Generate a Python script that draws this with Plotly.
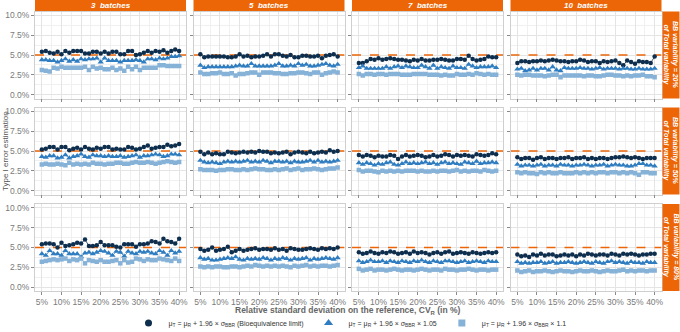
import plotly.graph_objects as go

W, H = 680, 332

cv = list(range(5, 41))
batches = ["3  batches", "5  batches", "7  batches", "10  batches"]
bb_labels = ["BB variability = 20%", "BB variability = 50%", "BB variability = 80%"]
limit = 5.0
x_range = [3.25, 41.75]
y_range = [-0.5, 10.5]
y_ticks = [0, 2.5, 5, 7.5, 10]
x_ticks = [5, 10, 15, 20, 25, 30, 35, 40]

legend_names = [
    "μ<sub>T</sub> = μ<sub>R</sub> + 1.96 × σ<sub>BBR</sub> (Bioequivalence limit)",
    "μ<sub>T</sub> = μ<sub>R</sub> + 1.96 × σ<sub>BBR</sub> × 1.05",
    "μ<sub>T</sub> = μ<sub>R</sub> + 1.96 × σ<sub>BBR</sub> × 1.1",
]

# ---- BB = 20% ----
bb20_b3_c = [5.4, 5.5, 5.3, 5.2, 5.4, 5.1, 5.5, 5.3, 5.5, 5.5, 5.5, 5.2, 5.2, 5.4, 5.4, 5.2, 5.4, 5.2, 5.4, 5.4, 5.1, 5.1, 5.5, 5.5, 5.0, 5.1, 5.3, 5.5, 5.3, 5.5, 5.4, 5.6, 5.3, 5.5, 5.7, 5.5]
bb20_b3_t = [4.4, 4.4, 4.3, 4.3, 4.1, 4.3, 4.5, 4.2, 4.4, 4.2, 4.5, 4.4, 4.5, 4.5, 4.6, 4.1, 4.6, 4.3, 4.3, 4.3, 4.1, 4.3, 4.3, 4.3, 4.4, 4.3, 4.1, 4.5, 4.5, 4.4, 4.6, 4.5, 4.6, 4.8, 4.8, 4.9]
bb20_b3_s = [3.1, 3.0, 2.9, 3.4, 3.3, 3.5, 3.4, 3.4, 3.4, 3.4, 3.4, 3.5, 3.1, 3.5, 3.3, 3.4, 3.2, 3.2, 3.4, 3.1, 3.3, 3.0, 3.5, 3.2, 3.5, 3.1, 3.4, 3.4, 3.4, 3.4, 3.7, 3.7, 3.6, 3.6, 3.6, 3.6]

bb20_b5_c = [5.1, 4.7, 4.8, 4.8, 4.8, 4.8, 4.8, 4.7, 4.7, 4.8, 5.1, 4.8, 4.9, 4.7, 4.8, 4.8, 4.9, 5.1, 4.8, 5.1, 5.1, 4.9, 4.8, 5.0, 4.7, 4.7, 4.9, 4.9, 4.8, 4.8, 4.9, 4.6, 4.9, 5.0, 5.1, 4.8]
bb20_b5_t = [3.7, 3.4, 3.5, 3.5, 3.5, 3.5, 3.5, 3.5, 3.5, 3.6, 3.7, 3.6, 3.6, 3.9, 3.6, 3.6, 3.6, 3.6, 3.6, 3.7, 3.9, 3.6, 3.6, 3.7, 3.6, 3.9, 3.7, 3.8, 3.6, 3.6, 3.7, 3.8, 3.9, 3.7, 3.6, 3.8]
bb20_b5_s = [2.8, 2.6, 2.6, 2.7, 2.7, 2.8, 2.6, 2.6, 2.7, 2.4, 2.6, 2.6, 2.7, 2.8, 2.8, 2.5, 2.8, 2.8, 2.8, 2.7, 2.7, 2.6, 2.6, 2.7, 2.7, 2.8, 2.8, 2.7, 2.6, 2.8, 2.8, 2.5, 2.7, 2.8, 2.9, 2.8]

bb20_b7_c = [4.0, 4.0, 4.2, 4.5, 4.4, 4.6, 4.4, 4.5, 4.6, 4.5, 4.4, 4.4, 4.3, 4.2, 4.4, 4.3, 4.5, 4.3, 4.3, 4.4, 4.4, 4.5, 4.4, 4.3, 4.3, 4.5, 4.5, 4.4, 4.9, 4.5, 4.3, 4.4, 4.5, 4.8, 4.7, 4.7]
bb20_b7_t = [3.4, 3.6, 3.3, 3.3, 3.3, 3.3, 3.3, 3.5, 3.3, 3.5, 3.6, 3.4, 3.6, 3.5, 3.4, 3.4, 3.7, 3.5, 3.3, 3.7, 3.3, 3.5, 3.4, 3.3, 3.6, 3.4, 3.4, 3.3, 3.8, 3.6, 3.4, 3.5, 3.5, 3.5, 3.6, 3.4]
bb20_b7_s = [2.6, 2.4, 2.6, 2.6, 2.5, 2.6, 2.6, 2.5, 2.6, 2.6, 2.6, 2.5, 2.5, 2.5, 2.6, 2.6, 2.6, 2.6, 2.5, 2.5, 2.5, 2.4, 2.5, 2.4, 2.4, 2.6, 2.5, 2.5, 2.6, 2.5, 2.7, 2.6, 2.5, 2.6, 2.5, 2.5]

bb20_b10_c = [4.0, 4.2, 4.2, 4.1, 4.2, 4.2, 4.3, 4.2, 4.3, 4.4, 4.3, 4.2, 4.2, 4.1, 4.2, 4.2, 4.4, 4.3, 4.1, 4.2, 4.2, 4.0, 4.2, 4.1, 4.2, 4.3, 4.0, 3.7, 4.3, 4.1, 3.9, 4.2, 4.1, 4.1, 4.0, 4.8]
bb20_b10_t = [3.2, 3.3, 3.0, 3.1, 3.3, 3.1, 3.3, 3.3, 3.1, 3.5, 3.1, 3.0, 3.4, 3.3, 3.3, 3.3, 3.4, 3.3, 3.3, 3.2, 3.3, 3.4, 3.2, 3.3, 3.3, 3.3, 3.2, 3.3, 3.3, 3.2, 3.2, 3.3, 3.2, 3.2, 3.2, 3.3]
bb20_b10_s = [2.5, 2.4, 2.5, 2.5, 2.4, 2.4, 2.4, 2.3, 2.4, 2.5, 2.5, 2.2, 2.4, 2.4, 2.4, 2.4, 2.4, 2.3, 2.4, 2.4, 2.3, 2.3, 2.4, 2.5, 2.5, 2.4, 2.4, 2.3, 2.4, 2.3, 2.4, 2.4, 2.5, 2.3, 2.3, 2.2]

# ---- BB = 50% ----
bb50_b3_c = [5.2, 5.3, 5.5, 5.5, 5.2, 5.5, 5.5, 5.1, 5.3, 5.4, 5.2, 5.5, 5.3, 5.2, 5.4, 5.3, 5.5, 5.5, 5.2, 5.3, 5.2, 5.2, 5.5, 5.4, 5.2, 5.3, 5.5, 5.7, 5.3, 5.4, 5.5, 5.5, 5.8, 5.6, 5.7, 5.9]
bb50_b3_t = [4.3, 4.2, 4.4, 4.4, 4.1, 4.2, 4.5, 4.1, 4.3, 4.4, 4.6, 4.3, 4.2, 4.5, 4.4, 4.4, 4.3, 4.4, 4.3, 4.3, 4.4, 4.2, 4.3, 4.4, 4.5, 4.2, 4.4, 4.4, 4.5, 4.6, 4.5, 4.3, 4.4, 4.6, 4.6, 4.5]
bb50_b3_s = [3.3, 3.4, 3.3, 3.3, 3.4, 3.3, 3.2, 3.5, 3.3, 3.4, 3.3, 3.4, 3.3, 3.5, 3.4, 3.4, 3.3, 3.4, 3.4, 3.5, 3.5, 3.4, 3.4, 3.5, 3.6, 3.5, 3.5, 3.6, 3.5, 3.4, 3.5, 3.6, 3.7, 3.6, 3.5, 3.6]

bb50_b5_c = [4.9, 4.6, 4.8, 4.6, 4.7, 4.6, 4.6, 4.9, 4.8, 4.7, 4.8, 4.9, 4.8, 4.9, 4.8, 5.0, 4.9, 4.9, 4.7, 4.8, 4.7, 4.8, 4.9, 4.6, 4.8, 4.9, 4.8, 4.7, 4.9, 4.7, 4.8, 4.9, 4.8, 5.1, 4.9, 5.0]
bb50_b5_t = [3.8, 3.6, 3.5, 3.6, 3.5, 3.4, 3.6, 3.7, 3.6, 3.7, 3.6, 3.7, 3.8, 3.6, 3.7, 3.6, 3.8, 3.7, 3.5, 3.7, 3.7, 3.6, 3.7, 3.5, 3.7, 3.6, 3.6, 3.7, 3.8, 3.6, 3.8, 3.6, 3.7, 3.6, 3.7, 3.8]
bb50_b5_s = [2.7, 2.6, 2.6, 2.6, 2.5, 2.6, 2.6, 2.7, 2.7, 2.6, 2.6, 2.7, 2.6, 2.7, 2.8, 2.7, 2.7, 2.6, 2.6, 2.7, 2.6, 2.7, 2.8, 2.6, 2.7, 2.8, 2.6, 2.7, 2.7, 2.8, 2.7, 2.6, 2.7, 2.8, 2.8, 2.9]

bb50_b7_c = [4.5, 4.3, 4.5, 4.4, 4.2, 4.4, 4.3, 4.3, 4.5, 4.4, 4.0, 4.3, 4.5, 4.3, 4.4, 4.5, 4.4, 4.2, 4.3, 4.5, 4.3, 4.4, 4.6, 4.5, 4.3, 4.5, 4.4, 4.5, 4.4, 4.3, 4.6, 4.5, 4.4, 4.5, 4.7, 4.6]
bb50_b7_t = [3.5, 3.3, 3.5, 3.4, 3.2, 3.4, 3.3, 3.5, 3.6, 3.3, 3.2, 3.4, 3.6, 3.4, 3.5, 3.4, 3.5, 3.6, 3.4, 3.5, 3.3, 3.5, 3.6, 3.4, 3.5, 3.4, 3.3, 3.6, 3.5, 3.4, 3.7, 3.4, 3.5, 3.5, 3.6, 3.5]
bb50_b7_s = [2.6, 2.4, 2.5, 2.5, 2.4, 2.3, 2.5, 2.4, 2.5, 2.4, 2.5, 2.4, 2.5, 2.5, 2.5, 2.4, 2.5, 2.4, 2.4, 2.5, 2.4, 2.5, 2.5, 2.4, 2.5, 2.6, 2.4, 2.5, 2.4, 2.5, 2.5, 2.4, 2.6, 2.5, 2.4, 2.5]

bb50_b10_c = [4.2, 4.0, 4.1, 4.1, 3.9, 4.1, 4.2, 4.0, 4.1, 4.1, 4.0, 4.1, 4.1, 4.2, 4.0, 4.1, 4.1, 4.2, 4.0, 4.1, 4.0, 4.1, 4.1, 4.0, 4.1, 4.2, 4.2, 4.3, 4.2, 4.1, 4.2, 4.1, 4.0, 4.1, 4.1, 4.1]
bb50_b10_t = [3.3, 3.1, 3.2, 3.2, 3.1, 3.2, 3.3, 3.1, 3.2, 3.2, 3.1, 3.3, 3.2, 3.2, 3.1, 3.2, 3.2, 3.3, 3.2, 3.1, 3.2, 3.2, 3.3, 3.1, 3.2, 3.3, 3.2, 3.2, 3.1, 3.1, 3.2, 3.4, 3.4, 3.2, 3.2, 3.1]
bb50_b10_s = [2.3, 2.2, 2.3, 2.2, 2.2, 2.1, 2.3, 2.2, 2.3, 2.2, 2.2, 2.3, 2.2, 2.2, 2.2, 2.3, 2.2, 2.3, 2.2, 2.3, 2.2, 2.3, 2.3, 2.2, 2.3, 2.3, 2.2, 2.3, 2.2, 2.3, 2.2, 2.0, 2.3, 2.3, 2.2, 2.2]

# ---- BB = 80% ----
bb80_b3_c = [5.4, 5.5, 5.5, 5.4, 5.0, 5.6, 5.2, 5.3, 5.4, 5.6, 5.5, 6.0, 5.2, 5.2, 5.3, 5.7, 5.3, 5.3, 5.3, 5.1, 5.0, 5.4, 5.4, 5.4, 5.1, 5.4, 5.4, 5.5, 5.8, 5.7, 5.5, 6.1, 5.8, 5.7, 5.5, 6.1]
bb80_b3_t = [4.2, 4.0, 4.6, 4.2, 4.2, 4.0, 4.6, 4.2, 4.2, 4.2, 3.8, 4.3, 4.4, 4.2, 4.4, 4.6, 4.5, 4.3, 4.0, 4.5, 4.4, 3.9, 4.5, 4.3, 4.2, 4.5, 4.4, 4.5, 4.3, 4.2, 4.6, 4.4, 4.0, 4.6, 4.3, 4.5]
bb80_b3_s = [3.2, 3.3, 3.4, 3.5, 3.4, 3.5, 3.6, 3.3, 3.5, 3.4, 3.6, 3.0, 3.4, 3.3, 3.2, 3.4, 3.2, 3.2, 3.3, 3.4, 3.0, 3.4, 3.1, 3.2, 3.6, 3.5, 3.3, 3.5, 3.4, 3.4, 3.6, 3.5, 3.4, 3.3, 3.6, 3.3]

bb80_b5_c = [4.8, 4.6, 4.7, 5.0, 4.6, 4.7, 4.8, 5.1, 4.4, 4.6, 4.8, 4.6, 4.7, 4.8, 4.9, 4.7, 4.8, 4.8, 4.7, 4.9, 4.7, 4.8, 4.6, 4.9, 4.8, 4.7, 4.7, 4.8, 4.9, 4.8, 4.7, 4.9, 4.8, 4.9, 4.8, 5.0]
bb80_b5_t = [3.7, 3.5, 3.6, 3.4, 3.4, 3.5, 3.6, 3.7, 3.6, 3.8, 3.5, 3.4, 3.6, 3.5, 3.6, 3.5, 3.7, 3.6, 3.4, 3.6, 3.5, 3.7, 3.6, 3.4, 3.6, 3.5, 3.6, 3.7, 3.4, 3.6, 3.5, 3.6, 3.7, 3.6, 3.5, 3.7]
bb80_b5_s = [2.6, 2.5, 2.6, 2.5, 2.6, 2.6, 2.5, 2.5, 2.6, 2.6, 2.5, 2.6, 2.7, 2.6, 2.8, 2.7, 2.6, 2.7, 2.6, 2.7, 2.6, 2.7, 2.6, 2.5, 2.7, 2.6, 2.7, 2.8, 2.6, 2.7, 2.6, 2.7, 2.7, 2.6, 2.7, 2.8]

bb80_b7_c = [4.4, 4.2, 4.3, 4.5, 4.3, 4.2, 4.4, 4.3, 4.5, 4.4, 4.2, 4.3, 4.4, 4.2, 4.5, 4.3, 4.4, 4.3, 4.1, 4.3, 4.4, 4.2, 4.4, 4.5, 4.2, 4.3, 4.4, 4.3, 4.2, 4.4, 4.3, 4.2, 4.3, 4.4, 4.3, 4.4]
bb80_b7_t = [3.3, 3.1, 3.2, 3.4, 3.2, 3.2, 3.3, 3.1, 3.3, 3.2, 3.1, 3.3, 3.2, 3.1, 3.3, 3.2, 3.4, 3.2, 3.1, 3.3, 3.2, 3.1, 3.3, 3.3, 3.2, 3.1, 3.2, 3.3, 3.1, 3.2, 3.3, 3.2, 3.1, 3.3, 3.2, 3.2]
bb80_b7_s = [2.3, 2.1, 2.2, 2.3, 2.1, 2.2, 2.2, 2.1, 2.2, 2.3, 2.2, 2.1, 2.2, 2.2, 2.1, 2.2, 2.3, 2.2, 2.1, 2.2, 2.2, 2.1, 2.3, 2.2, 2.2, 2.1, 2.2, 2.2, 2.3, 2.2, 2.1, 2.2, 2.2, 2.1, 2.2, 2.2]

bb80_b10_c = [4.1, 3.9, 4.0, 3.8, 4.1, 4.0, 4.2, 4.0, 4.1, 4.1, 3.9, 4.0, 4.1, 4.0, 4.1, 3.9, 4.1, 4.0, 4.2, 4.1, 4.0, 4.1, 4.1, 4.0, 4.2, 4.1, 4.0, 4.2, 4.1, 4.2, 4.1, 4.0, 4.1, 4.1, 4.2, 4.2]
bb80_b10_t = [3.2, 3.0, 3.1, 3.0, 3.1, 3.1, 3.2, 3.0, 3.1, 3.2, 3.0, 3.1, 3.1, 3.2, 3.1, 3.0, 3.1, 3.2, 3.1, 3.0, 3.2, 3.1, 3.0, 3.2, 3.3, 3.1, 3.2, 3.1, 3.0, 3.2, 3.1, 3.1, 3.0, 3.2, 3.1, 3.1]
bb80_b10_s = [2.1, 1.9, 2.0, 2.1, 1.9, 2.0, 2.0, 2.1, 2.0, 1.9, 2.0, 2.1, 2.0, 2.0, 1.9, 2.0, 2.1, 2.0, 2.0, 2.1, 2.0, 1.9, 2.0, 2.1, 2.0, 2.0, 2.1, 2.2, 2.0, 2.1, 2.0, 2.1, 2.1, 2.0, 2.1, 2.1]

panels = [
    [(bb20_b3_c, bb20_b3_t, bb20_b3_s), (bb20_b5_c, bb20_b5_t, bb20_b5_s),
     (bb20_b7_c, bb20_b7_t, bb20_b7_s), (bb20_b10_c, bb20_b10_t, bb20_b10_s)],
    [(bb50_b3_c, bb50_b3_t, bb50_b3_s), (bb50_b5_c, bb50_b5_t, bb50_b5_s),
     (bb50_b7_c, bb50_b7_t, bb50_b7_s), (bb50_b10_c, bb50_b10_t, bb50_b10_s)],
    [(bb80_b3_c, bb80_b3_t, bb80_b3_s), (bb80_b5_c, bb80_b5_t, bb80_b5_s),
     (bb80_b7_c, bb80_b7_t, bb80_b7_s), (bb80_b10_c, bb80_b10_t, bb80_b10_s)],
]

# ---- styling ----
FONT = "Liberation Sans, Arial, sans-serif"
ORANGE = "#EC6608"
COLORS = ["#0E2E4E", "#2F7DC0", "#86B2D8"]
SYMBOLS = ["circle", "triangle-up", "square"]
SIZES = [4.5, 5.5, 4.5]
GRID = "#E4E4E4"
MINOR = "#F0F0F0"
BORDER = "#CFCFCF"
TICKC = "#8A8A8A"

col_px = [(35, 186), (193.5, 344.5), (352, 503), (510.5, 661.5)]
row_px = [(11.5, 98.5), (107.5, 194.5), (204, 291)]

fig = go.Figure()
layout = {}
shapes = []
annotations = []

for r in range(3):
    for c in range(4):
        k = r * 4 + c + 1
        xa = "x" if k == 1 else f"x{k}"
        ya = "y" if k == 1 else f"y{k}"
        # bioequivalence reference line (dashed), drawn above the grid, below the points
        fig.add_trace(go.Scatter(
            x=x_range, y=[limit, limit], xaxis=xa, yaxis=ya, mode="lines",
            line=dict(color=ORANGE, width=1.6, dash="dash"),
            showlegend=False, hoverinfo="skip",
        ))
        for s in range(3):
            fig.add_trace(go.Scatter(
                x=cv, y=panels[r][c][s], xaxis=xa, yaxis=ya,
                mode="lines+markers",
                line=dict(color=COLORS[s], width=0.8),
                marker=dict(symbol=SYMBOLS[s], size=SIZES[s], color=COLORS[s],
                            line=dict(width=0)),
                showlegend=False, hoverinfo="skip",
            ))
        x0, x1 = col_px[c]
        y0, y1 = row_px[r]
        layout["xaxis" if k == 1 else f"xaxis{k}"] = dict(
            domain=[x0 / W, x1 / W], anchor=ya, range=x_range,
            tickmode="array", tickvals=x_ticks,
            ticktext=[f"{v}%" for v in x_ticks], tickangle=0,
            showticklabels=(r == 2), ticks="outside", ticklen=3,
            tickcolor=TICKC, tickwidth=0.6, automargin=False,
            tickfont=dict(family=FONT, size=8.5, color="#7A7A7A"),
            showgrid=True, gridcolor=GRID, gridwidth=0.8,
            minor=dict(tickmode="array", tickvals=[7.5 + 5 * i for i in range(7)],
                       showgrid=True, gridcolor=MINOR, gridwidth=0.6, ticks=""),
            showline=True, mirror=True, linecolor=BORDER, linewidth=0.8,
            zeroline=False, fixedrange=True,
        )
        layout["yaxis" if k == 1 else f"yaxis{k}"] = dict(
            domain=[1 - y1 / H, 1 - y0 / H], anchor=xa, range=y_range,
            tickmode="array", tickvals=y_ticks,
            ticktext=[f"{v:.1f}%" for v in y_ticks],
            showticklabels=(c == 0), ticks="outside", ticklen=3,
            tickcolor=TICKC, tickwidth=0.6, automargin=False,
            tickfont=dict(family=FONT, size=8.5, color="#7A7A7A"),
            showgrid=True, gridcolor=GRID, gridwidth=0.8,
            minor=dict(tickmode="array", tickvals=[1.25 + 2.5 * i for i in range(4)],
                       showgrid=True, gridcolor=MINOR, gridwidth=0.6, ticks=""),
            showline=True, mirror=True, linecolor=BORDER, linewidth=0.8,
            zeroline=False, fixedrange=True,
        )

# legend-only entries (markers only, as in the reference legend)
for s in range(3):
    fig.add_trace(go.Scatter(
        x=[None], y=[None], mode="markers",
        marker=dict(symbol=SYMBOLS[s], size=SIZES[s] + 2.5, color=COLORS[s]),
        name=legend_names[s], showlegend=True, hoverinfo="skip",
    ))

# top strips
for c in range(4):
    x0, x1 = col_px[c]
    shapes.append(dict(type="rect", xref="paper", yref="paper",
                       x0=x0 / W, x1=x1 / W, y0=1 - 11 / H, y1=1,
                       fillcolor=ORANGE, line=dict(width=0), layer="above"))
    annotations.append(dict(
        x=(x0 + x1) / 2 / W, y=1 - 5.5 / H, xref="paper", yref="paper",
        text=f"<b><i>{batches[c]}</i></b>", showarrow=False,
        font=dict(family=FONT, size=8, color="white"),
        xanchor="center", yanchor="middle"))

# right strips
for r in range(3):
    y0, y1 = row_px[r]
    shapes.append(dict(type="rect", xref="paper", yref="paper",
                       x0=662.5 / W, x1=679.5 / W, y0=1 - y1 / H, y1=1 - y0 / H,
                       fillcolor=ORANGE, line=dict(width=0), layer="above"))
    annotations.append(dict(
        x=671 / W, y=1 - (y0 + y1) / 2 / H, xref="paper", yref="paper",
        text=f"<b><i>{bb_labels[r]}<br>of Total variability</i></b>",
        showarrow=False, textangle=90,
        font=dict(family=FONT, size=7, color="white"),
        xanchor="center", yanchor="middle"))

# axis titles
annotations.append(dict(
    x=5 / W, y=1 - 151 / H, xref="paper", yref="paper",
    text="Type I error estimation", showarrow=False, textangle=-90,
    font=dict(family=FONT, size=8, color="#555555"),
    xanchor="center", yanchor="middle"))
annotations.append(dict(
    x=348 / W, y=1 - 310 / H, xref="paper", yref="paper",
    text="<b>Relative standard deviation on the reference, CV<sub>R</sub> (in %)</b>",
    showarrow=False, font=dict(family=FONT, size=8.5, color="#666666"),
    xanchor="center", yanchor="middle"))

fig.update_layout(
    width=W, height=H,
    margin=dict(l=0, r=0, t=0, b=0, autoexpand=False),
    paper_bgcolor="white", plot_bgcolor="white",
    font=dict(family=FONT),
    shapes=shapes, annotations=annotations,
    legend=dict(orientation="h", x=350 / W, xanchor="center",
                y=1 - 323 / H, yanchor="middle", traceorder="normal",
                font=dict(family=FONT, size=7, color="#333333"),
                bgcolor="rgba(0,0,0,0)", itemwidth=30),
    showlegend=True,
    **layout,
)

fig.write_html(
    "out.html",
    config={"displayModeBar": False},
    post_script="document.body.style.margin='0';document.body.style.overflow='hidden';",
)
